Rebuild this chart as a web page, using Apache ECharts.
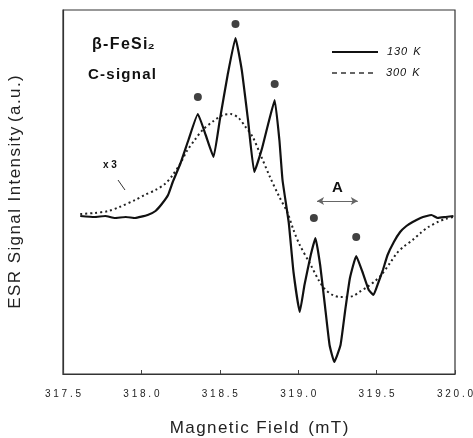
<!DOCTYPE html>
<html><head><meta charset="utf-8">
<script src="https://cdn.jsdelivr.net/npm/echarts@6/dist/echarts.min.js"></script>
<style>html,body{margin:0;padding:0;background:#fff}#c{width:473px;height:438px}</style>
</head><body><div id="c"></div>
<script>
// 130 K spectrum (solid)
const field130K = [317.61,317.70,317.77,317.83,317.90,317.96,318.04,318.09,318.13,318.17,318.20,318.25,318.30,318.36,318.41,318.46,318.50,318.55,318.60,318.64,318.68,318.72,318.77,318.81,318.85,318.88,318.90,318.94,318.97,319.01,319.04,319.08,319.11,319.14,319.17,319.20,319.23,319.27,319.30,319.33,319.37,319.41,319.45,319.48,319.51,319.54,319.57,319.61,319.65,319.69,319.73,319.78,319.82,319.85,319.89,319.94,319.99];
const signal130K = [-2,-3,-2,-4,-3,-4,-1,3,10,19,32,51,74,100,79,57,94,139,176,144,94,42,66,91,114,74,34,-9,-58,-98,-71,-41,-24,-51,-91,-131,-148,-131,-96,-64,-42,-58,-76,-81,-69,-56,-41,-28,-18,-12,-8,-4,-2,-1,-4,-3,-2];
// 300 K spectrum (dotted)
const field300K = [317.61,317.70,317.79,317.86,317.96,318.02,318.09,318.15,318.20,318.25,318.29,318.34,318.39,318.46,318.52,318.57,318.62,318.66,318.71,318.76,318.82,318.88,318.93,318.97,319.01,319.08,319.13,319.17,319.22,319.27,319.31,319.35,319.39,319.44,319.49,319.53,319.59,319.63,319.67,319.73,319.78,319.83,319.89,319.94,319.99];
const signal300K = [0,1,3,7,14,19,24,30,39,51,63,74,84,93,99,100,96,88,77,59,37,17,2,-16,-31,-51,-66,-75,-81,-83,-83,-82,-78,-73,-67,-61,-48,-39,-33,-26,-19,-13,-8,-5,-3];
// marked peaks (filled circles)
const peakField = [318.36,318.60,318.85,319.10,319.37];
const peakSignal = [117,190,130,-4,-23];
// hyperfine splitting "A"
const splitField = [319.12,319.38];
const splitSignal = [13,13];
const xTickLabels = ['317.5','318.0','318.5','319.0','319.5','320.0'];
const seriesNames = ['130 K','300 K'];

const hs = '\u200A';
const sp = (s, g) => s.split('').join(g);
const FONT = 'Liberation Sans, Arial, sans-serif';

const chart = echarts.init(document.getElementById('c'), null, {renderer:'canvas'});
const zip = (a, b) => a.map((v, i) => [v, b[i]]);

chart.setOption({
  animation: false,
  backgroundColor: '#fff',
  grid: {left: 63, right: 18, top: 10, bottom: 64, show: true, borderColor: '#333', borderWidth: 1.2,
         containLabel: false, outerBoundsMode: 'none'},
  xAxis: {
    type: 'value', min: 317.5, max: 320.0, interval: 0.5,
    name: sp('Magnetic Field', hs) + '  ' + sp('(mT)', hs), nameLocation: 'middle', nameGap: 46,
    nameTextStyle: {fontFamily: FONT, fontSize: 17, color: '#222'},
    axisLine: {show: true, onZero: false, lineStyle: {color: '#333', width: 1.2}},
    axisTick: {show: true, inside: true, length: 4, lineStyle: {color: '#444'}},
    axisLabel: {
      showMinLabel: true, showMaxLabel: true, margin: 15,
      fontFamily: FONT, fontSize: 10, color: '#222',
      formatter: (v, i) => sp(xTickLabels[i] !== undefined ? xTickLabels[i] : v.toFixed(1), ' ')
    },
    splitLine: {show: false}
  },
  yAxis: {
    type: 'value', min: -160, max: 204,
    name: sp('ESR Signal Intensity', hs) + ' ' + sp('(a.u.)', hs), nameLocation: 'middle', nameGap: 39, nameRotate: 90,
    nameTextStyle: {fontFamily: FONT, fontSize: 17, color: '#222'},
    axisLine: {show: true, onZero: false, lineStyle: {color: '#333', width: 1.2}},
    axisTick: {show: false}, axisLabel: {show: false}, splitLine: {show: false}
  },
  series: [
    {
      name: seriesNames[0], type: 'line', data: zip(field130K, signal130K),
      showSymbol: false, smooth: 0.12, lineStyle: {color: '#111', width: 2.2}, z: 3
    },
    {
      name: seriesNames[1], type: 'line', data: zip(field300K, signal300K),
      showSymbol: false, smooth: 0.3, lineStyle: {color: '#222', width: 2, type: [2, 3]}, z: 2
    },
    {
      name: 'peaks', type: 'scatter', data: zip(peakField, peakSignal),
      symbol: 'circle', symbolSize: 8, itemStyle: {color: '#111'}, z: 4,
      markLine: {
        silent: true, symbol: ['arrow', 'arrow'], symbolSize: [6, 7],
        lineStyle: {color: '#666', width: 1, type: 'solid'},
        label: {show: true, position: 'middle', formatter: 'A', distance: 6,
                fontFamily: FONT, fontSize: 15, fontWeight: 'bold', color: '#111'},
        data: [[{coord: [splitField[0], splitSignal[0]]}, {coord: [splitField[1], splitSignal[1]]}]]
      }
    }
  ],
  graphic: [
    {type: 'text', left: 92, top: 37, style: {text: sp('β-FeSi', hs) + '₂', fontFamily: FONT, fontSize: 16, fontWeight: 'bold', fill: '#111'}},
    {type: 'text', left: 88, top: 67, style: {text: sp('C-signal', hs), fontFamily: FONT, fontSize: 15, fontWeight: 'bold', fill: '#111'}},
    {type: 'text', left: 103, top: 160, style: {text: 'x 3', fontFamily: FONT, fontSize: 10, fontWeight: 'bold', fill: '#111'}},
    {type: 'line', shape: {x1: 118, y1: 180, x2: 125, y2: 190}, style: {stroke: '#333', lineWidth: 1}},
    {type: 'line', shape: {x1: 332, y1: 52, x2: 378, y2: 52}, style: {stroke: '#111', lineWidth: 2}},
    {type: 'line', shape: {x1: 332, y1: 73, x2: 374, y2: 73}, style: {stroke: '#333', lineWidth: 1.5, lineDash: [5, 4]}},
    {type: 'text', x: 387, y: 52, style: {text: sp('130', hs) + '  K', fontFamily: FONT, fontSize: 11, fontStyle: 'italic', fill: '#111', verticalAlign: 'middle'}},
    {type: 'text', x: 386, y: 73, style: {text: sp('300', hs) + '  K', fontFamily: FONT, fontSize: 11, fontStyle: 'italic', fill: '#111', verticalAlign: 'middle'}}
  ]
});
</script>
</body></html>
